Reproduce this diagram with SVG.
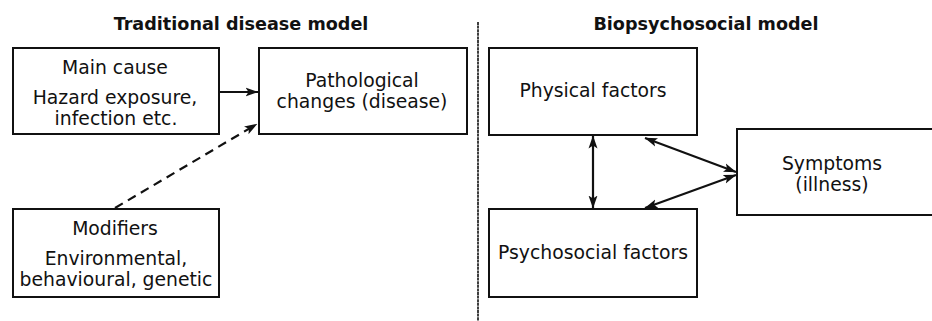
<svg xmlns="http://www.w3.org/2000/svg" width="932" height="321" viewBox="0 0 932 321">
  <style>
    .box { fill: #ffffff; stroke: #111111; stroke-width: 2; }
    .lbl { font-family: "DejaVu Sans", Verdana, sans-serif; font-size: 18.8px; fill: #111111; text-anchor: middle; }
    .ttl { font-family: "DejaVu Sans", Verdana, sans-serif; font-size: 17.6px; font-weight: bold; fill: #111111; text-anchor: middle; }
    .edge { fill: none; stroke: #111111; stroke-width: 2.2; }
    .dash { stroke-dasharray: 9 6; }
  </style>
  <defs>
    <marker id="head" viewBox="0 0 13 10" refX="12.5" refY="5" markerWidth="13" markerHeight="10" markerUnits="userSpaceOnUse" orient="auto-start-reverse">
      <path d="M0,0.5 L13,5 L0,9.5 L3,5 Z" fill="#111111"/>
    </marker>
  </defs>

  <rect width="932" height="321" fill="#ffffff"/>

  <!-- section titles -->
  <text class="ttl" x="241" y="30">Traditional disease model</text>
  <text class="ttl" x="706" y="30">Biopsychosocial model</text>

  <!-- divider between the two models -->
  <line x1="478" y1="22" x2="478" y2="321" stroke="#2a2a2a" stroke-width="1.8" stroke-dasharray="3 0.6"/>

  <g id="main-cause">
    <rect class="box" x="13" y="48" width="206" height="86"/>
    <text class="lbl" x="115" y="74">Main cause</text>
    <text class="lbl" x="115" y="104">Hazard exposure,</text>
    <text class="lbl" x="116" y="125">infection etc.</text>
  </g>

  <g id="pathological-changes">
    <rect class="box" x="259" y="48" width="208" height="86"/>
    <text class="lbl" x="362" y="87">Pathological</text>
    <text class="lbl" x="362" y="108">changes (disease)</text>
  </g>

  <g id="modifiers">
    <rect class="box" x="13" y="209" width="206" height="88"/>
    <text class="lbl" x="115" y="235">Modifiers</text>
    <text class="lbl" x="116" y="265">Environmental,</text>
    <text class="lbl" x="116" y="286">behavioural, genetic</text>
  </g>

  <g id="physical-factors">
    <rect class="box" x="489" y="48" width="208" height="87"/>
    <text class="lbl" x="593" y="97">Physical factors</text>
  </g>

  <g id="psychosocial-factors">
    <rect class="box" x="489" y="209" width="208" height="88"/>
    <text class="lbl" x="593" y="259">Psychosocial factors</text>
  </g>

  <g id="symptoms">
    <rect class="box" x="737" y="129" width="200" height="86"/>
    <text class="lbl" x="832" y="170">Symptoms</text>
    <text class="lbl" x="832" y="191">(illness)</text>
  </g>

  <g id="connectors">
    <line class="edge" x1="219" y1="92" x2="258" y2="92" marker-end="url(#head)"/>
    <line class="edge dash" x1="115" y1="208" x2="257" y2="124" marker-end="url(#head)"/>
    <line class="edge" x1="593" y1="136" x2="593" y2="208" marker-start="url(#head)" marker-end="url(#head)"/>
    <line class="edge" x1="645" y1="138" x2="736" y2="172" marker-start="url(#head)" marker-end="url(#head)"/>
    <line class="edge" x1="645" y1="208" x2="736" y2="175" marker-start="url(#head)" marker-end="url(#head)"/>
  </g>
</svg>
